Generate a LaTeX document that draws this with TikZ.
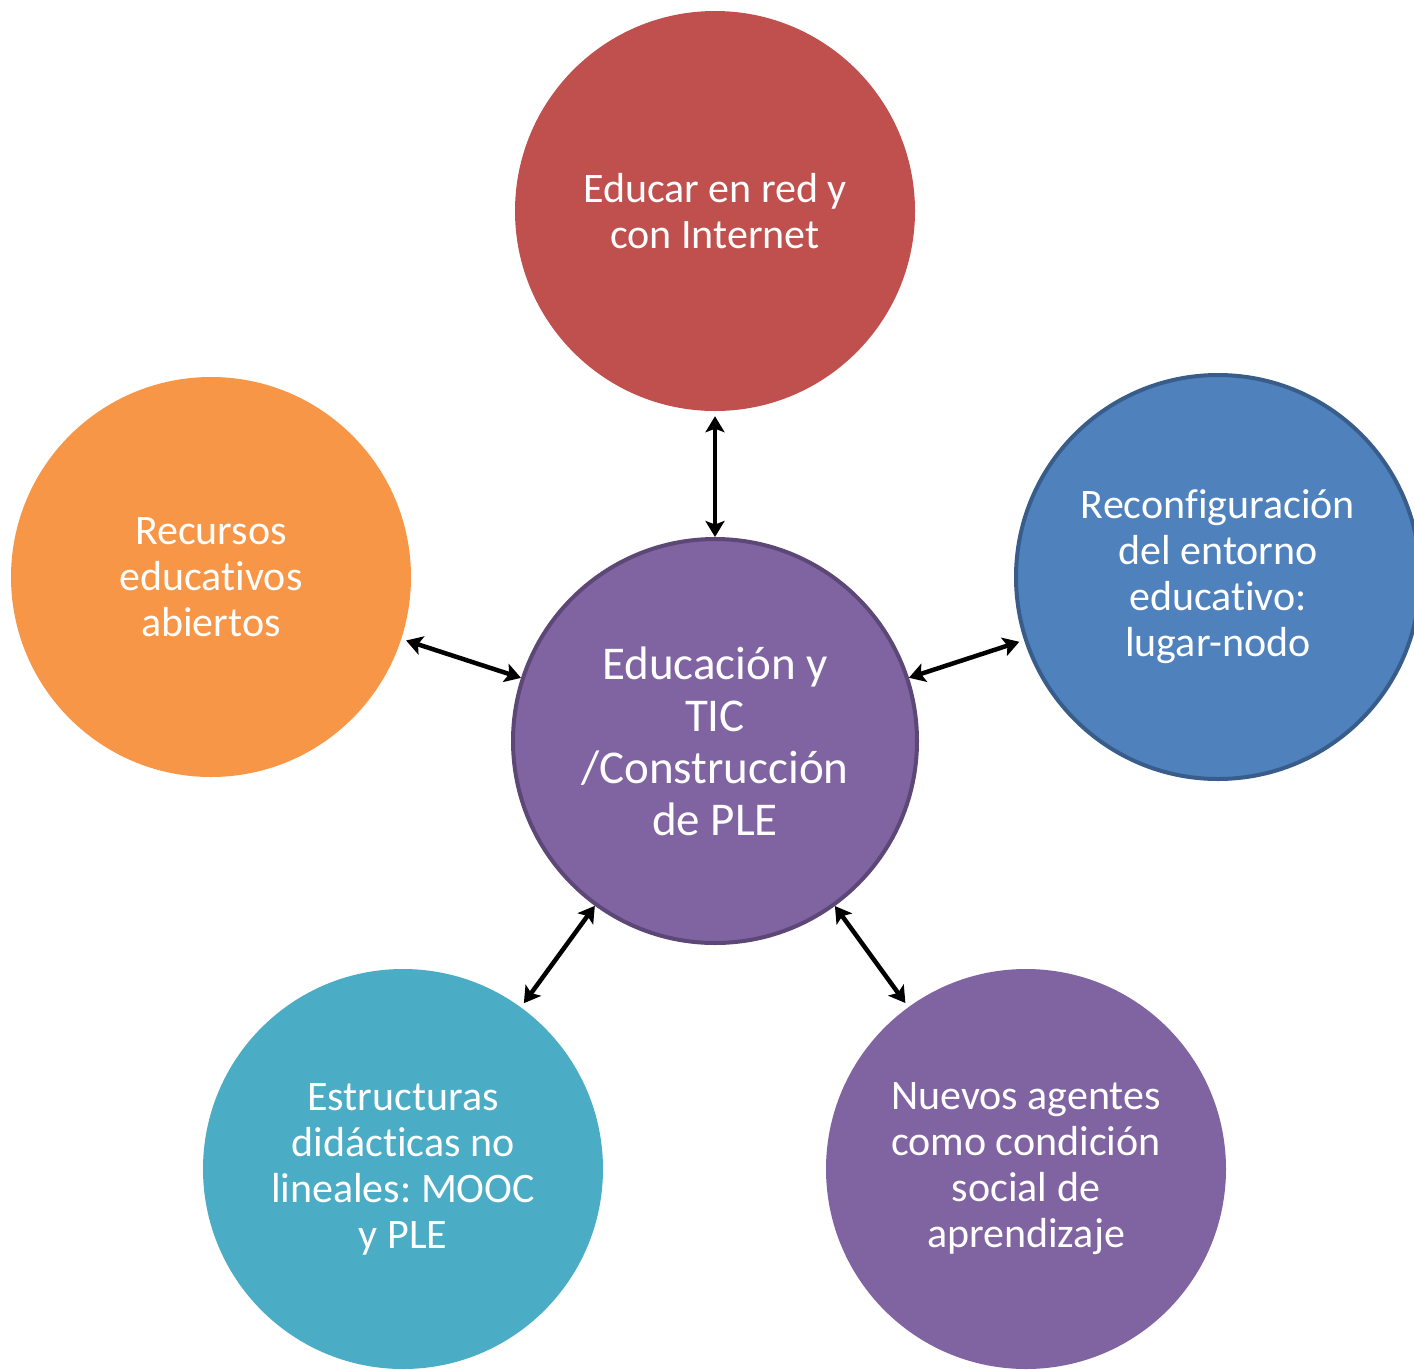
\documentclass[tikz,border=0pt]{standalone}
\usepackage{fontspec}
\setmainfont{Carlito}[Ligatures={NoCommon,NoRequired,NoContextual}]
\usetikzlibrary{arrows.meta}
\definecolor{redfill}{HTML}{C0504D}
\definecolor{orangefill}{HTML}{F79646}
\definecolor{bluefill}{HTML}{4F81BD}
\definecolor{blueline}{HTML}{385D8A}
\definecolor{purplefill}{HTML}{8064A2}
\definecolor{purpleline}{HTML}{5C4776}
\definecolor{tealfill}{HTML}{4BACC6}
\tikzset{dart/.tip={Stealth[length=16pt,width=19pt,inset=3.5pt]}}
\frenchspacing
\begin{document}
\begin{tikzpicture}[x=1pt,y=-1pt,
  bubble/.style={circle,minimum size=400pt,inner sep=0pt,align=center,text=white,
    font=\fontsize{42}{46}\selectfont},
  ringed/.style={minimum size=404pt,line width=4pt},
  link/.style={dart-dart,line width=4.5pt,shorten >=5pt}]
\useasboundingbox (0,0) rectangle (1414,1369);
\node[bubble,fill=redfill] (red) at (715,211) {Educar en red y\\con Internet};
\node[bubble,fill=orangefill] (orange) at (211,577) {Recursos\\educativos\\abiertos};
\node[bubble,ringed,fill=bluefill,draw=blueline] (blue) at (1218,577)
  {Reconfiguración\\del entorno\\educativo:\\lugar-nodo};
\node[bubble,ringed,fill=purplefill,draw=purpleline,font=\fontsize{47}{52}\selectfont] (hub) at (715,741)
  {Educación y\\TIC\\/Construcción\\de PLE};
\node[bubble,fill=tealfill] (teal) at (403,1169) {Estructuras\\didácticas no\\lineales: MOOC\\y PLE};
\node[bubble,fill=purplefill] (purple) at (1026,1169) {Nuevos agentes\\como condición\\social de\\aprendizaje};
\draw[link] (hub) -- (red);
\draw[link] (hub) -- (orange);
\draw[link] (hub) -- (blue);
\draw[link] (hub) -- (teal);
\draw[link] (hub) -- (purple);
\end{tikzpicture}
\end{document}
